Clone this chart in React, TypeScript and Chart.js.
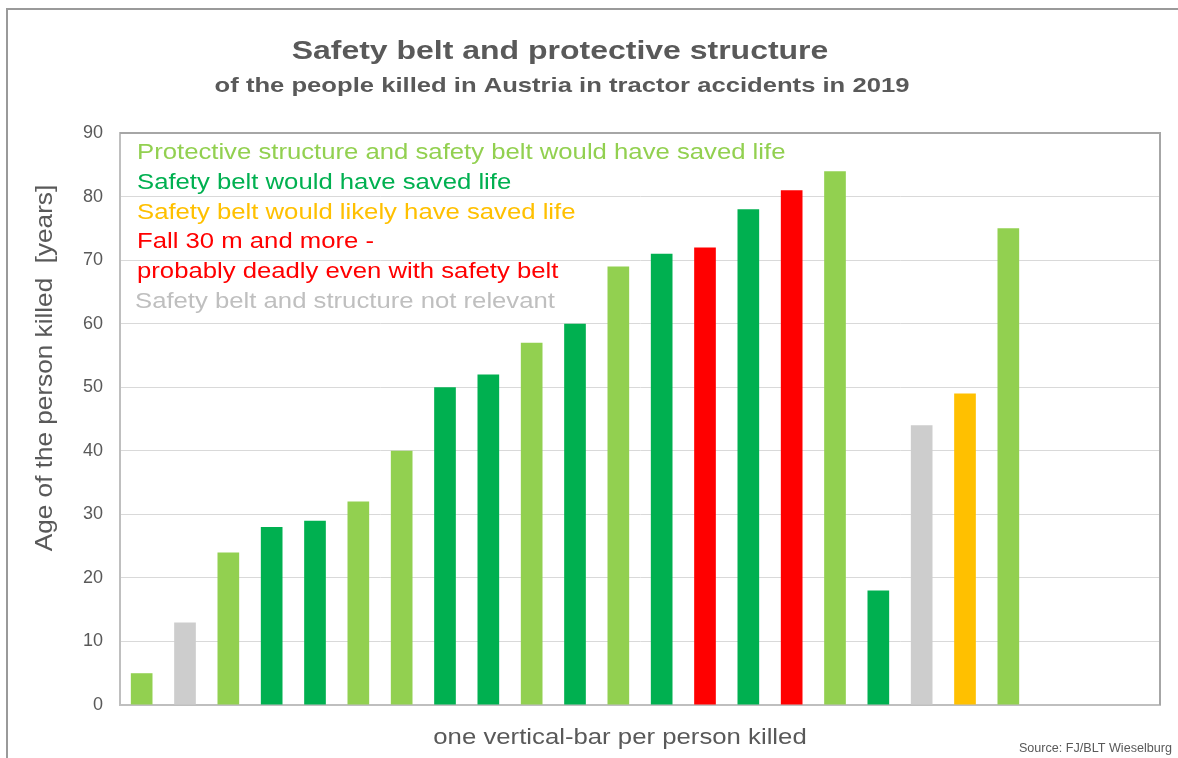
import React, { useEffect, useRef } from "react";
import { Chart, registerables } from "chart.js";

Chart.register(...registerables);

const categories: string[] = [
  "", "", "", "", "", "", "", "", "", "", "", "", "", "", "", "", "", "", "", "", "", "", "", "",
];

const ages: (number | null)[] = [
  5, 13, 24, 28, 29, 32, 40, 50, 52, 57, 60, 69, 71, 72, 78, 81, 84, 18, 44, 49, 75, null, null, null,
];

const LG = "#92D050";
const DG = "#00B050";
const RD = "#FF0000";
const OR = "#FFC000";
const GY = "#CDCDCD";

const barColors: string[] = [
  LG, GY, LG, DG, DG, LG, LG, DG, DG, LG, DG, LG, DG, RD, DG, RD, LG, DG, GY, OR, LG, LG, LG, LG,
];

const yTicks: number[] = [0, 10, 20, 30, 40, 50, 60, 70, 80, 90];

const noteLines: string[] = [
  "Protective structure and safety belt would have saved life",
  "Safety belt would have saved life",
  "Safety belt would likely have saved life",
  "Fall 30 m and more -",
  "probably deadly even with safety belt",
  "Safety belt and structure not relevant",
];
const noteColors: string[] = [LG, DG, OR, RD, RD, "#BFBFBF"];

const titleText = "Safety belt and protective structure";
const subtitleText = "of the people killed in Austria in tractor accidents in 2019";
const xTitle = "one vertical-bar per person killed";
const yTitle = "Age of the person killed  [years]";
const sourceText = "Source: FJ/BLT Wieselburg";

const FONT = "'Liberation Sans', Arial, sans-serif";
const TXT = "#595959";

function stretchText(
  ctx: CanvasRenderingContext2D,
  text: string,
  x: number,
  y: number,
  sx: number,
  align: CanvasTextAlign
) {
  ctx.save();
  ctx.translate(x, y);
  ctx.scale(sx, 1);
  ctx.textAlign = align;
  ctx.fillText(text, 0, 0);
  ctx.restore();
}

const decorPlugin = {
  id: "decor",
  beforeDraw(chart: any) {
    const ctx = chart.ctx;
    ctx.save();
    ctx.fillStyle = "#ffffff";
    ctx.fillRect(0, 0, chart.width, chart.height);
    ctx.strokeStyle = "#9a9a9a";
    ctx.lineWidth = 2;
    ctx.strokeRect(7, 9, 1300, 900);
    ctx.restore();
  },
  afterDraw(chart: any) {
    const ctx = chart.ctx;
    const a = chart.chartArea;
    ctx.save();
    ctx.strokeStyle = "#A6A6A6";
    ctx.lineWidth = 2;
    ctx.beginPath();
    ctx.moveTo(a.left, a.top);
    ctx.lineTo(a.right, a.top);
    ctx.lineTo(a.right, a.bottom);
    ctx.stroke();

    ctx.textBaseline = "middle";
    ctx.fillStyle = TXT;
    ctx.font = `bold 26px ${FONT}`;
    stretchText(ctx, titleText, 560, 52, 1.23, "center");
    ctx.font = `bold 21px ${FONT}`;
    stretchText(ctx, subtitleText, 562, 86, 1.22, "center");

    ctx.font = `22px ${FONT}`;
    stretchText(ctx, xTitle, 620, 738, 1.17, "center");

    ctx.save();
    ctx.translate(45, 368);
    ctx.rotate(-Math.PI / 2);
    ctx.font = `24px ${FONT}`;
    stretchText(ctx, yTitle, 0, 0, 1.09, "center");
    ctx.restore();

    ctx.font = `12px ${FONT}`;
    stretchText(ctx, sourceText, 1172, 749, 1.05, "right");

    ctx.font = `22px ${FONT}`;
    noteLines.forEach((t, i) => {
      ctx.fillStyle = noteColors[i];
      stretchText(ctx, t, i === 5 ? 135 : 137, 153 + i * 29.8, 1.168, "left");
    });
    ctx.restore();
  },
};

export default function App() {
  const ref = useRef<HTMLCanvasElement>(null);
  useEffect(() => {
    if (!ref.current) return;
    const chart = new Chart(ref.current, {
      type: "bar",
      data: {
        labels: categories,
        datasets: [
          {
            data: ages,
            backgroundColor: barColors,
            borderWidth: 0,
            categoryPercentage: 1,
            barPercentage: 0.5,
          },
        ],
      },
      plugins: [decorPlugin],
      options: {
        responsive: false,
        animation: false,
        devicePixelRatio: 1,
        layout: { padding: { top: 133, right: 18, left: 0, bottom: 0 } },
        plugins: {
          legend: { display: false },
          tooltip: { enabled: false },
          title: { display: false },
        },
        scales: {
          x: {
            grid: { display: false, drawTicks: false },
            border: { display: true, color: "#BFBFBF", width: 2 },
            ticks: { display: false },
            afterFit: (s: any) => {
              s.height = 53;
            },
          },
          y: {
            min: 0,
            max: 90,
            afterBuildTicks: (s: any) => {
              s.ticks = yTicks.map((v) => ({ value: v }));
            },
            grid: { color: "#D9D9D9", lineWidth: 1, drawTicks: false },
            border: { display: true, color: "#BFBFBF", width: 2 },
            ticks: {
              padding: 17,
              color: TXT,
              font: { family: FONT, size: 18 },
            },
            afterFit: (s: any) => {
              s.width = 120;
            },
          },
        },
      },
    });
    return () => chart.destroy();
  }, []);
  return (
    <div style={{ position: "absolute", left: 0, top: 0, width: 1178, height: 758 }}>
      <canvas ref={ref} width={1178} height={758} />
    </div>
  );
}
